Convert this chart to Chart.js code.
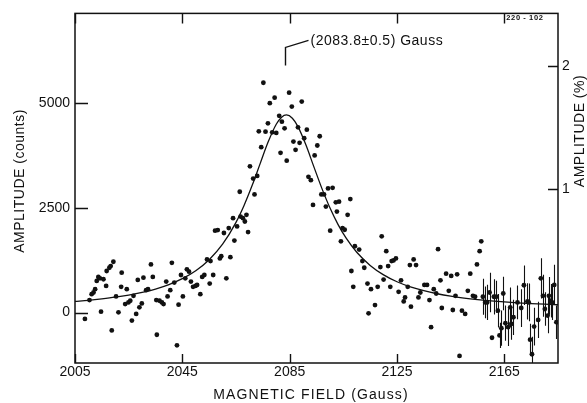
<!DOCTYPE html>
<html><head><meta charset="utf-8">
<script src="https://cdn.jsdelivr.net/npm/chart.js@4.4.1/dist/chart.umd.min.js"></script>
<style>html,body{margin:0;padding:0;background:#fff}#wrap{width:587px;height:403px;position:relative}</style>
</head><body><div id="wrap"><canvas id="c"></canvas></div>
<script>
// Measured points (field in Gauss, amplitude in counts)
const fieldGauss = [
2008.7,2010.4,2011.2,2011.9,2012.5,2013.1,2013.7,2014.3,2014.7,2015.6,2016.6,2016.8,2017.8,2018.3,2018.7,2019.3,2020.3,2021.2,2022.2,2022.4,
2023.7,2024.3,2024.9,2025.6,2026.2,2026.8,2027.8,2028.4,2029.0,2029.9,2030.5,2031.5,2032.2,2033.3,2034.0,2035.3,2035.5,2036.5,2037.4,2038.0,
2039.0,2039.5,2040.5,2041.1,2042.0,2043.0,2043.6,2044.5,2045.2,2046.1,2046.7,2047.5,2048.2,2049.0,2049.9,2050.5,2051.7,2052.4,2053.2,2054.2,
2055.2,2055.5,2056.5,2057.2,2058.2,2059.0,2059.5,2060.5,2061.4,2062.3,2062.9,2063.9,2064.4,2065.4,2066.7,2067.6,2068.3,2068.9,2069.5,
2066.4,2070.2,2071.4,2071.9,2072.9,2073.5,2074.4,2075.2,2076.0,2076.9,2077.6,2078.5,2079.4,2080.0,2081.1,2081.6,2082.1,2083.1,2083.9,2084.8,
2085.8,2086.4,2087.2,2088.1,2088.7,2089.5,2090.4,2091.4,2092.0,2092.9,2093.7,2094.3,2095.3,2096.2,2096.8,2097.8,2098.5,2099.3,2100.1,2101.0,
2102.2,2102.6,2103.4,2104.1,2104.7,2105.5,2106.6,2107.6,
2108.0,2108.7,2109.3,2110.9,2112.1,2112.8,2114.0,2114.4,2115.3,2116.8,2117.8,2118.8,2119.3,2120.0,2121.0,2121.7,2122.5,2123.0,2123.7,2124.6,
2125.6,2126.5,2127.5,2128.0,2129.0,2129.8,2130.2,2131.2,2132.1,2133.0,2133.7,2135.2,2136.2,2137.1,2137.7,2138.7,2139.6,2140.3,2141.2,2141.7,
2143.3,2144.3,2145.2,2145.8,2146.8,2147.4,2148.3,2149.2,2150.4,2151.4,2152.3,2153.3,2154.1,2154.8,2155.8,2156.4,
2157.0,2157.9,2158.6,2159.5,2160.4,2161.1,2162.0,2162.6,2163.2,2163.9,2164.6,2165.4,2166.4,2167.2,2167.6,2168.4,2169.9,2171.3,2172.3,2173.6,
2174.1,2174.6,2175.3,2176.1,2177.6,2178.6,2179.4,2180.1,2181.1,2181.6,2182.3,2182.8,2183.6,2184.4
];
const amplitudeCounts = [
-150,299,441,480,559,755,850,818,24,795,637,992,1070,1110,-425,1212,386,8,614,952,
205,559,244,283,-189,401,-31,779,126,220,834,535,559,1149,850,299,-527,283,244,205,
740,386,535,1188,716,-779,189,897,386,818,1031,976,740,614,637,661,441,850,897,1267,
693,1228,897,1952,1967,1291,1346,1897,818,2015,1322,2251,1716,2054,2290,2251,2172,2330,1920,
2880,3486,3195,2817,3258,4321,3943,5477,4313,4510,4990,4297,5123,4281,4690,3809,4549,4391,3620,5241,
4911,4077,3880,4415,4045,5029,4155,4360,3235,3156,2566,3746,3982,4203,2817,2817,2526,2959,1952,2975,
2629,2408,2644,1700,2015,1975,2330,2707,
992,614,1582,1503,1228,1070,693,-16,559,181,614,1086,1818,787,1464,1110,614,1228,1243,1291,
496,771,268,362,614,1133,142,1267,1133,362,480,661,661,299,-346,559,456,1511,771,110,
929,519,874,63,401,913,-1031,47,-31,519,929,401,378,1149,1464,1700,
378,244,244,480,-598,378,378,47,-543,-370,456,-252,-346,126,-268,-110,244,110,653,268,
244,-645,-992,-331,-173,818,401,87,-71,401,283,244,661,-228
];
// Error bars (± counts) of the last measured points, in the same order
const errorBars = [
430,380,420,470,0,420,380,400,300,420,400,420,450,470,380,420,400,450,470,430,
450,380,420,450,430,480,500,400,420,450,400,420,480,400
];
// Fitted resonance curve
const fitField  = [2005,2010,2015,2020,2025,2030,2035,2040,2045,2050,2055,2060,2065,2068,2071,2074,2077,2080,2082,2083.8,
                   2086,2088,2091,2094,2097,2100,2103,2106,2110,2115,2120,2125,2130,2135,2140,2145,2150,2155,2160,2165,2170,2175,2180,2185];
const fitCounts = [267,294,328,368,419,482,563,669,809,999,1262,1631,2152,2555,3028,3551,4069,4489,4658,4710,
                   4633,4443,4004,3479,2961,2497,2103,1779,1438,1125,900,736,614,522,450,393,348,311,280,255,234,216,201,188];
const xTicks = [2005,2045,2085,2125,2165];
const countTicks = [0,2500,5000];
const percentTicks = [1,2];
const fitCenter = 2083.8;
const resonanceLabel = '(2083.8\u00B10.5) Gauss';
const plateLabel = '220 - 102';

const FONT = "'Liberation Sans', Arial, sans-serif";
const INK = '#111';

const pts = fieldGauss.map((x,i)=>({x:x,y:amplitudeCounts[i]}));
const errOffset = pts.length - errorBars.length;
const fitPts = fitField.map((x,i)=>({x:x,y:fitCounts[i]}));

const decor = {
  id:'decor',
  beforeDatasetsDraw(chart){
    const {ctx, chartArea:a, scales} = chart;
    const xs = scales.x, ys = scales.y;
    ctx.save();
    ctx.beginPath(); ctx.rect(a.left, a.top, a.right-a.left, a.bottom-a.top); ctx.clip();
    ctx.strokeStyle = INK; ctx.lineWidth = 1.1;
    ctx.beginPath();
    errorBars.forEach((e,k)=>{
      if(!e) return;
      const p = pts[errOffset+k];
      const px = Math.round(xs.getPixelForValue(p.x))+0.5;
      ctx.moveTo(px, ys.getPixelForValue(p.y+e));
      ctx.lineTo(px, ys.getPixelForValue(p.y-e));
    });
    ctx.stroke();
    ctx.restore();
  },
  afterDraw(chart){
    const {ctx, chartArea:a, scales} = chart;
    const xs = scales.x, ys = scales.y, yp = scales.yp;
    ctx.save();
    ctx.strokeStyle = INK; ctx.lineWidth = 1.5;
    ctx.strokeRect(a.left, a.top, a.right-a.left, a.bottom-a.top);
    ctx.lineWidth = 1.4;
    ctx.beginPath();
    xTicks.forEach(v=>{
      const px = Math.round(xs.getPixelForValue(v))+0.5;
      ctx.moveTo(px, a.bottom); ctx.lineTo(px, a.bottom-9);
      ctx.moveTo(px, a.top); ctx.lineTo(px, a.top+10);
    });
    countTicks.forEach(v=>{
      const py = Math.round(ys.getPixelForValue(v))+0.5;
      ctx.moveTo(a.left, py); ctx.lineTo(a.left+13, py);
    });
    percentTicks.forEach(v=>{
      const py = Math.round(yp.getPixelForValue(v))+0.5;
      ctx.moveTo(a.right, py); ctx.lineTo(a.right-10, py);
    });
    // leader line of the resonance label
    const cx = Math.round(xs.getPixelForValue(fitCenter))-0.5;
    ctx.moveTo(cx, a.top+52); ctx.lineTo(cx, a.top+34); ctx.lineTo(cx+23, a.top+27);
    ctx.stroke();

    ctx.fillStyle = INK;
    ctx.textBaseline = 'middle';
    ctx.font = '14px ' + FONT;
    ctx.letterSpacing = '0.5px';
    ctx.textAlign = 'left';
    ctx.fillText(resonanceLabel, cx+25, a.top+28);

    ctx.font = 'bold 7.5px ' + FONT;
    ctx.letterSpacing = '0.6px';
    ctx.fillText(plateLabel, xs.getPixelForValue(2165)+2, a.top+5);

    // axis titles
    ctx.font = '14px ' + FONT;
    ctx.textAlign = 'center';
    ctx.letterSpacing = '1.1px';
    ctx.fillText('MAGNETIC FIELD (Gauss)', 311, 395);
    ctx.letterSpacing = '0.5px';
    ctx.save(); ctx.translate(20, 181); ctx.rotate(-Math.PI/2);
    ctx.fillText('AMPLITUDE (counts)', 0, 0); ctx.restore();
    ctx.save(); ctx.translate(580, 131); ctx.rotate(-Math.PI/2);
    ctx.fillText('AMPLITUDE (%)', 0, 0); ctx.restore();
    ctx.restore();
  }
};

const plain = v => String(v);

new Chart(document.getElementById('c'), {
  type:'scatter',
  data:{datasets:[
    {type:'line', data:fitPts, borderColor:INK, borderWidth:1.3, pointRadius:0, fill:false,
     cubicInterpolationMode:'monotone', yAxisID:'y', order:2},
    {type:'scatter', data:pts, backgroundColor:INK, borderColor:INK, pointRadius:2.4, borderWidth:0, yAxisID:'y', order:1}
  ]},
  options:{
    responsive:true, maintainAspectRatio:false, animation:false, devicePixelRatio:1,
    layout:{padding:{top:10,left:0,right:0,bottom:0}},
    plugins:{legend:{display:false}, tooltip:{enabled:false}},
    scales:{
      x:{type:'linear', position:'bottom', min:2005, max:2185,
         afterBuildTicks:s=>{s.ticks = xTicks.map(v=>({value:v}));},
         afterFit:s=>{s.height = 40;},
         grid:{display:false, drawTicks:false}, border:{display:false},
         ticks:{color:INK, font:{family:FONT,size:14}, padding:1, maxRotation:0, autoSkip:false, callback:plain}},
      y:{type:'linear', position:'left', min:-1200, max:7130,
         afterBuildTicks:s=>{s.ticks = countTicks.map(v=>({value:v}));},
         afterFit:s=>{s.width = 75;},
         grid:{display:false, drawTicks:false}, border:{display:false},
         ticks:{color:INK, font:{family:FONT,size:14}, padding:5, callback:plain}},
      yp:{type:'linear', position:'right', min:-0.409, max:2.428,
         afterBuildTicks:s=>{s.ticks = percentTicks.map(v=>({value:v}));},
         afterFit:s=>{s.width = 29;},
         grid:{display:false, drawTicks:false}, border:{display:false},
         ticks:{color:INK, font:{family:FONT,size:14}, padding:4, callback:plain}}
    }
  },
  plugins:[decor]
});
</script></body></html>
